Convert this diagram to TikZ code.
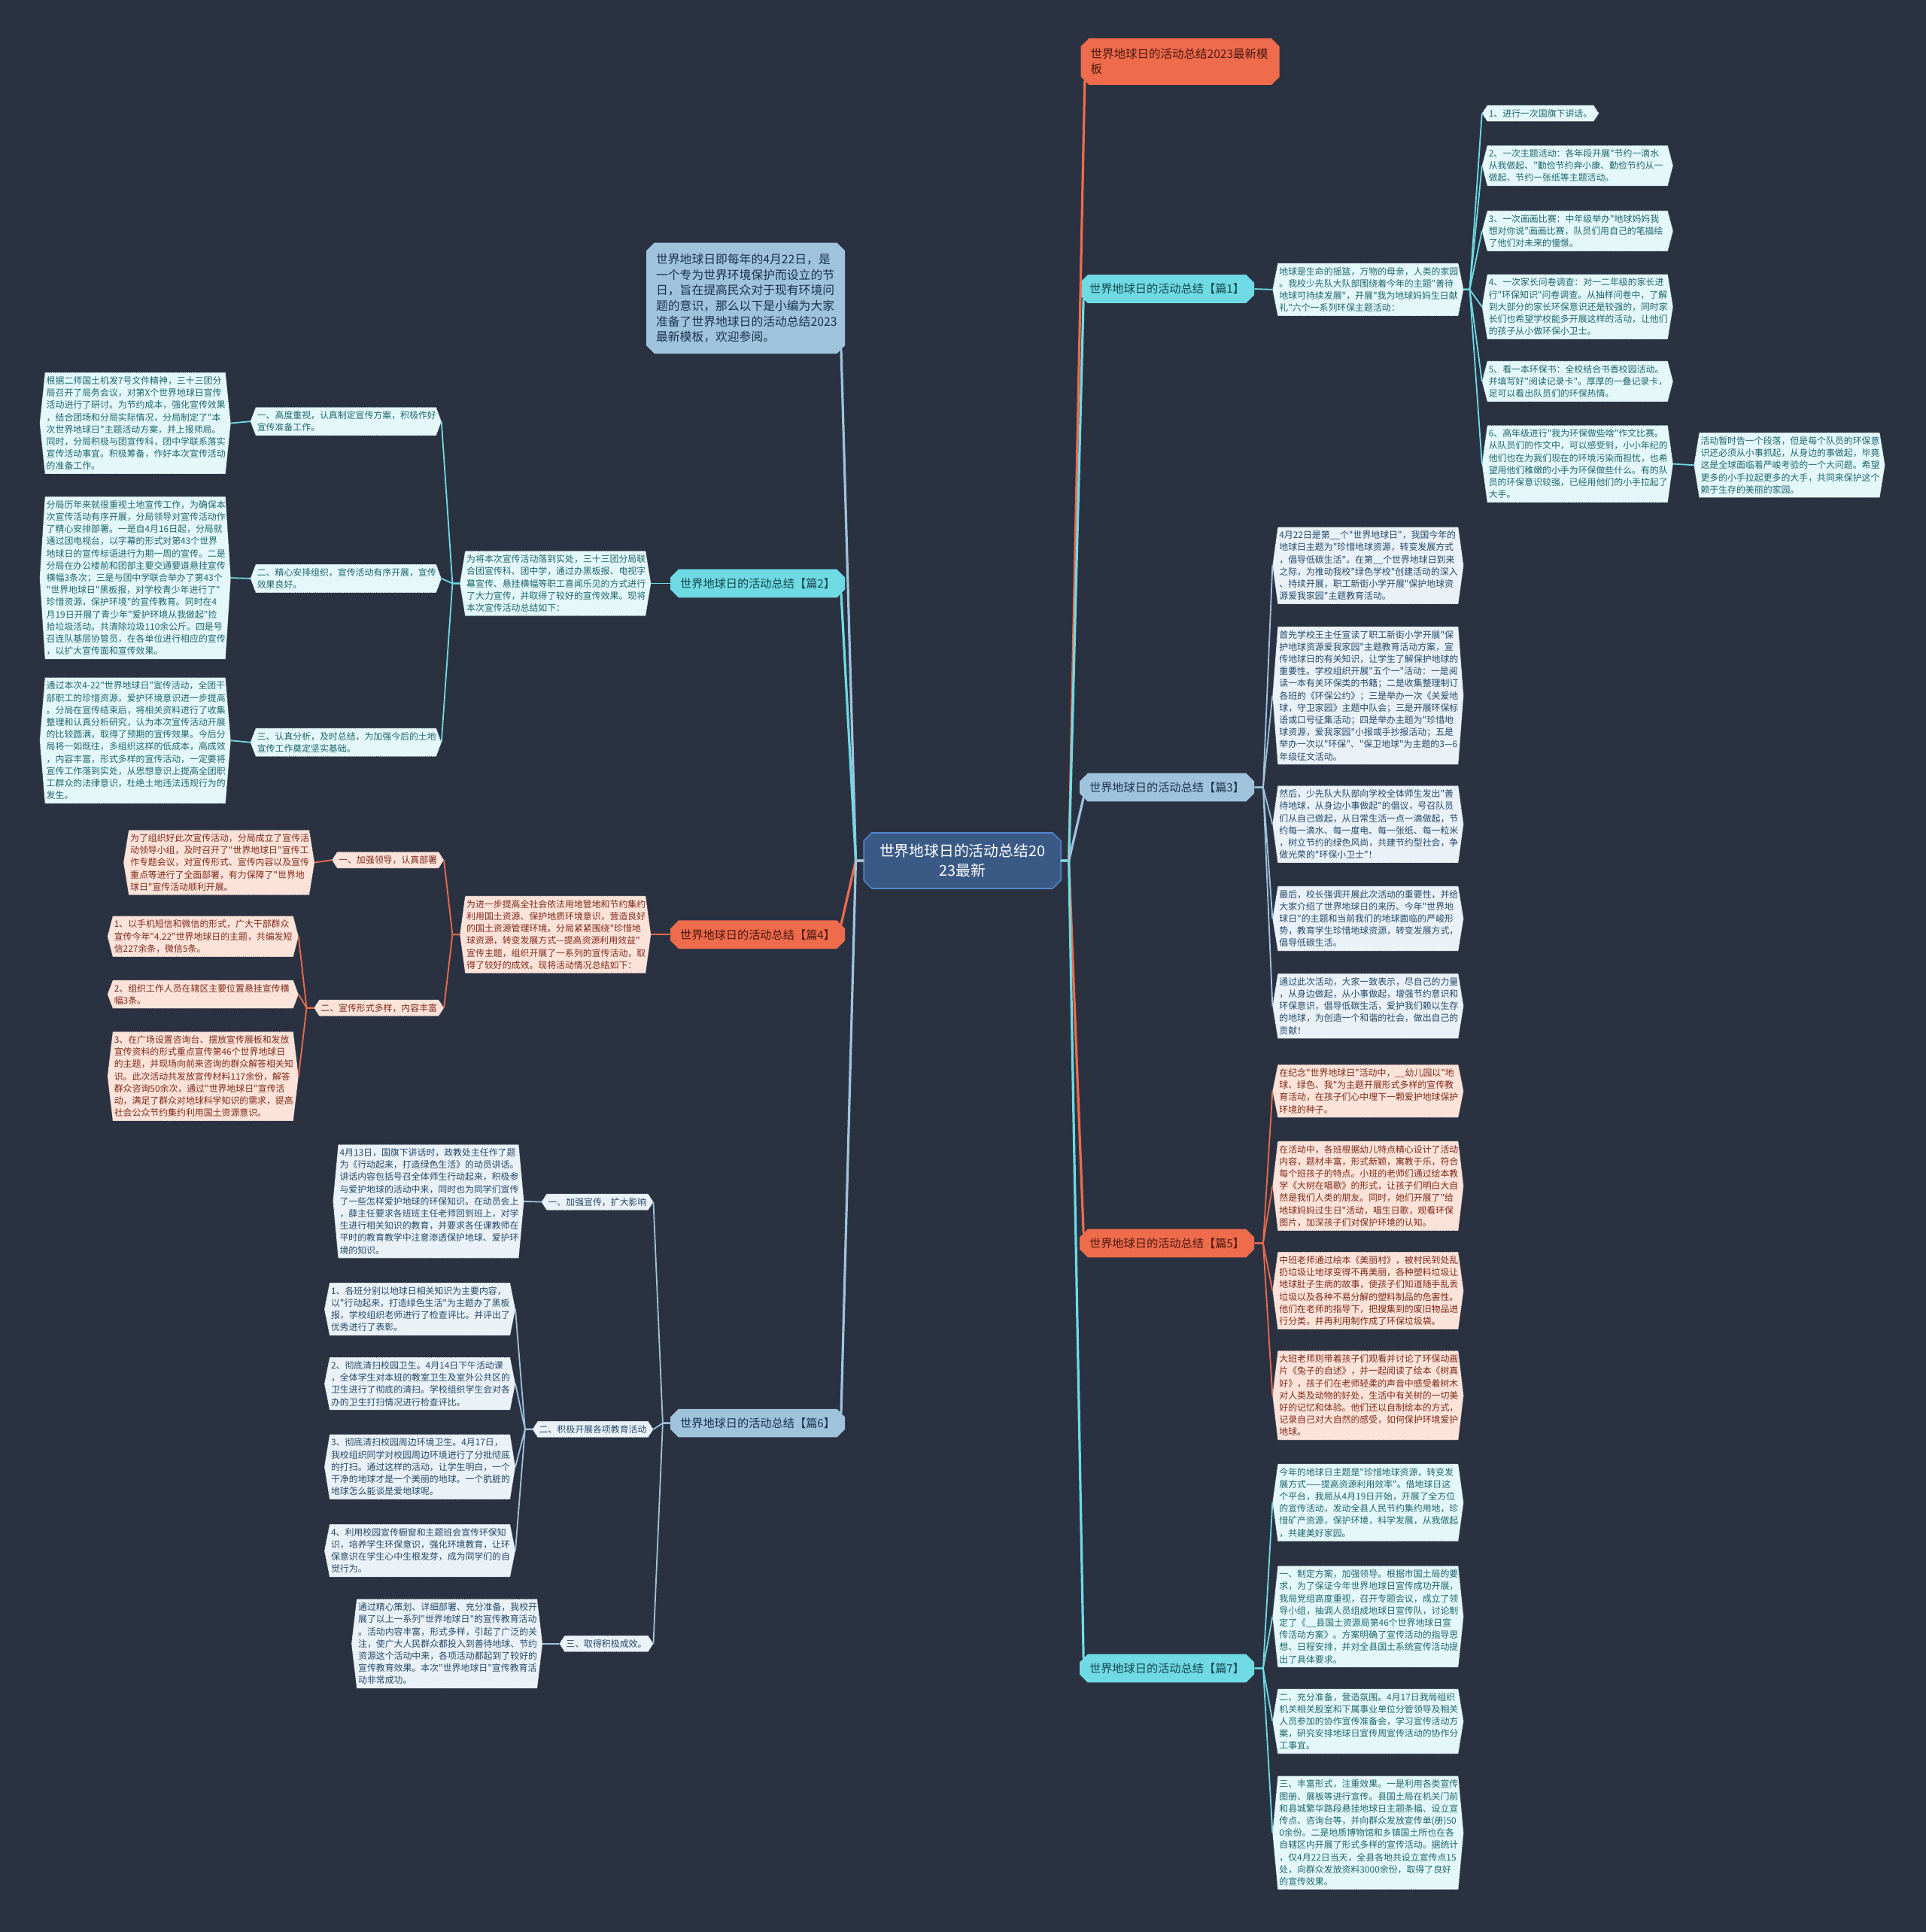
\documentclass[tikz,border=0pt]{standalone}
\usepackage{fontspec}
\newfontfamily\cjk{Noto Sans CJK SC}
\usetikzlibrary{shapes.misc,calc}
\definecolor{bgc}{HTML}{2A3242}
\definecolor{cyanF}{HTML}{6FDAE3}
\definecolor{cyanL}{HTML}{E4F8FA}
\definecolor{cyanT}{HTML}{1F666E}
\definecolor{orgF}{HTML}{EE6B4C}
\definecolor{orgL}{HTML}{FCE3DA}
\definecolor{orgT}{HTML}{7E2A19}
\definecolor{bluF}{HTML}{9FC3DB}
\definecolor{bluL}{HTML}{EAF2F8}
\definecolor{bluT}{HTML}{26496A}
\definecolor{rootF}{HTML}{3A5985}
\definecolor{rootD}{HTML}{5185CC}
\definecolor{hexD}{HTML}{3C4656}
\pgfdeclarelayer{back}
\pgfsetlayers{back,main}
\tikzset{
  topic/.style={chamfered rectangle, chamfered rectangle xsep=2.5pt, inner xsep=4pt, inner ysep=3pt,
    minimum height=17pt, font=\cjk\fontsize{7.6pt}{9pt}\selectfont},
  leaf/.style={align=left, inner xsep=0.8pt, inner ysep=2.4pt, font=\cjk\fontsize{5.95pt}{8.1pt}\selectfont},
  wd/.style={text width=118pt},
  lc/.style={leaf, text=cyanT},
  lo/.style={leaf, text=orgT},
  lb/.style={leaf, text=bluT},
  hexc/.style={fill=cyanL, draw=hexD, densely dotted, line width=0.35pt},
  hexo/.style={fill=orgL, draw=hexD, densely dotted, line width=0.35pt},
  hexb/.style={fill=bluL, draw=hexD, densely dotted, line width=0.35pt},
  trunk/.style={line width=1.6pt, line cap=round},
  twig/.style={line width=0.9pt},
}

\begin{document}
\begin{tikzpicture}[x=0.819pt,y=-0.819pt]
  % --- root and main topics ---
  \node[chamfered rectangle, chamfered rectangle xsep=2.5pt, fill=rootF, draw=rootD, line width=0.8pt,
    text=white, text width=118pt, align=center, minimum height=37pt, inner xsep=4pt,
    font=\cjk\fontsize{9.9pt}{13.4pt}\selectfont] (root) at (781,698.5) {世界地球日的活动总结20\\23最新};
  \node[topic, fill=orgF, text=orgT!60!black, text width=119pt, align=left, inner ysep=4pt,
    font=\cjk\fontsize{7.75pt}{10pt}\selectfont, anchor=west] (tmpl) at (877,50) {世界地球日的活动总结2023最新模\\板};
  \node[topic, fill=bluF, text=bluT!70!black, text width=119pt, align=left, inner ysep=4.5pt,
    font=\cjk\fontsize{7.9pt}{10.3pt}\selectfont, anchor=east] (intro) at (686,242)
    {世界地球日即每年的4月22日，是\\一个专为世界环境保护而设立的节\\日，旨在提高民众对于现有环境问\\题的意识，那么以下是小编为大家\\准备了世界地球日的活动总结2023\\最新模板，欢迎参阅。};
  \node[topic, fill=cyanF, text=cyanT!70!black, anchor=west] (p1) at (876,234.5) {世界地球日的活动总结【篇1】};
  \node[topic, fill=bluF, text=bluT!70!black, anchor=west] (p3) at (876,639) {世界地球日的活动总结【篇3】};
  \node[topic, fill=orgF, text=orgT!60!black, anchor=west] (p5) at (876,1009) {世界地球日的活动总结【篇5】};
  \node[topic, fill=cyanF, text=cyanT!70!black, anchor=west] (p7) at (876,1354) {世界地球日的活动总结【篇7】};
  \node[topic, fill=cyanF, text=cyanT!70!black, anchor=east] (p2) at (686,473.5) {世界地球日的活动总结【篇2】};
  \node[topic, fill=orgF, text=orgT!60!black, anchor=east] (p4) at (686,758.5) {世界地球日的活动总结【篇4】};
  \node[topic, fill=bluF, text=bluT!70!black, anchor=east] (p6) at (686,1155) {世界地球日的活动总结【篇6】};

  % --- 篇1 ---
  \node[lc, wd, anchor=west] (p1i) at (1037,235) {地球是生命的摇篮，万物的母亲，人类的家园\\。我校少先队大队部围绕着今年的主题"善待\\地球可持续发展"，开展"我为地球妈妈生日献\\礼"六个一系列环保主题活动：};
  \node[lc, anchor=west] (p1a) at (1207,92) {1、进行一次国旗下讲话。};
  \node[lc, wd, anchor=west] (p1b) at (1207,134.5) {2、一次主题活动：各年段开展"节约一滴水\\从我做起、"勤俭节约奔小康、勤俭节约从一\\做起、节约一张纸等主题活动。};
  \node[lc, wd, anchor=west] (p1c) at (1207,187.5) {3、一次画画比赛：中年级举办"地球妈妈我\\想对你说"画画比赛，队员们用自己的笔描绘\\了他们对未来的憧憬。};
  \node[lc, wd, anchor=west] (p1d) at (1207,249) {4、一次家长问卷调查：对一二年级的家长进\\行"环保知识"问卷调查。从抽样问卷中，了解\\到大部分的家长环保意识还是较强的，同时家\\长们也希望学校能多开展这样的活动，让他们\\的孩子从小做环保小卫士。};
  \node[lc, wd, anchor=west] (p1e) at (1207,309.5) {5、看一本环保书：全校结合书香校园活动。\\并填写好"阅读记录卡"。厚厚的一叠记录卡，\\足可以看出队员们的环保热情。};
  \node[lc, wd, anchor=west] (p1f) at (1207,376.5) {6、高年级进行"我为环保做些啥"作文比赛。\\从队员们的作文中，可以感受到，小小年纪的\\他们也在为我们现在的环境污染而担忧，也希\\望用他们稚嫩的小手为环保做些什么。有的队\\员的环保意识较强，已经用他们的小手拉起了\\大手。};
  \node[lc, wd, anchor=west] (p1g) at (1379,377.5) {活动暂时告一个段落，但是每个队员的环保意\\识还必须从小事抓起，从身边的事做起，毕竟\\这是全球面临着严峻考验的一个大问题。希望\\更多的小手拉起更多的大手，共同来保护这个\\赖于生存的美丽的家园。};

  % --- 篇3 ---
  \node[lb, wd, anchor=west] (p3a) at (1037,459) {4月22日是第\_\_个"世界地球日"，我国今年的\\地球日主题为"珍惜地球资源，转变发展方式\\，倡导低碳生活"。在第\_\_个世界地球日到来\\之际，为推动我校"绿色学校"创建活动的深入\\、持续开展，职工新街小学开展"保护地球资\\源爱我家园"主题教育活动。};
  \node[lb, wd, anchor=west] (p3b) at (1037,564.5) {首先学校王主任宣读了职工新街小学开展"保\\护地球资源爱我家园"主题教育活动方案，宣\\传地球日的有关知识，让学生了解保护地球的\\重要性。学校组织开展"五个一"活动：一是阅\\读一本有关环保类的书籍；二是收集整理制订\\各班的《环保公约》；三是举办一次《关爱地\\球，守卫家园》主题中队会；三是开展环保标\\语或口号征集活动；四是举办主题为"珍惜地\\球资源，爱我家园"小报或手抄报活动；五是\\\mbox{举办一次以"环保"、"保卫地球"为主题的3—6}\\年级征文活动。};
  \node[lb, wd, anchor=west] (p3c) at (1037,669) {然后，少先队大队部向学校全体师生发出"善\\待地球，从身边小事做起"的倡议，号召队员\\们从自己做起，从日常生活一点一滴做起，节\\约每一滴水、每一度电、每一张纸、每一粒米\\，树立节约的绿色风尚，共建节约型社会，争\\做光荣的"环保小卫士"！};
  \node[lb, wd, anchor=west] (p3d) at (1037,745.5) {最后，校长强调开展此次活动的重要性，并给\\大家介绍了世界地球日的来历、今年"世界地\\球日"的主题和当前我们的地球面临的严峻形\\势，教育学生珍惜地球资源，转变发展方式，\\倡导低碳生活。};
  \node[lb, wd, anchor=west] (p3e) at (1037,816.5) {通过此次活动，大家一致表示，尽自己的力量\\，从身边做起，从小事做起，增强节约意识和\\环保意识，倡导低碳生活，爱护我们赖以生存\\的地球，为创造一个和谐的社会，做出自己的\\贡献！};

  % --- 篇5 ---
  \node[lo, wd, anchor=west] (p5a) at (1037,885.5) {在纪念"世界地球日"活动中，\_\_幼儿园以"地\\球、绿色、我"为主题开展形式多样的宣传教\\育活动，在孩子们心中埋下一颗爱护地球保护\\环境的种子。};
  \node[lo, wd, anchor=west] (p5b) at (1037,962.5) {在活动中，各班根据幼儿特点精心设计了活动\\内容，题材丰富，形式新颖，寓教于乐，符合\\每个班孩子的特点。小班的老师们通过绘本教\\学《大树在唱歌》的形式，让孩子们明白大自\\然是我们人类的朋友。同时，她们开展了"给\\地球妈妈过生日"活动，唱生日歌，观看环保\\图片，加深孩子们对保护环境的认知。};
  \node[lo, wd, anchor=west] (p5c) at (1037,1047.5) {中班老师通过绘本《美丽村》，被村民到处乱\\扔垃圾让地球变得不再美丽，各种塑料垃圾让\\地球肚子生病的故事，使孩子们知道随手乱丢\\垃圾以及各种不易分解的塑料制品的危害性。\\他们在老师的指导下，把搜集到的废旧物品进\\行分类，并再利用制作成了环保垃圾袋。};
  \node[lo, wd, anchor=west] (p5d) at (1037,1132.5) {大班老师则带着孩子们观看并讨论了环保动画\\片《兔子的自述》，并一起阅读了绘本《树真\\好》，孩子们在老师轻柔的声音中感受着树木\\对人类及动物的好处，生活中有关树的一切美\\好的记忆和体验。他们还以自制绘本的方式，\\记录自己对大自然的感受，如何保护环境爱护\\地球。};

  % --- 篇7 ---
  \node[lc, wd, anchor=west] (p7a) at (1037,1219.5) {今年的地球日主题是"珍惜地球资源，转变发\\展方式——提高资源利用效率"。借地球日这\\个平台，我局从4月19日开始，开展了全方位\\的宣传活动，发动全县人民节约集约用地，珍\\惜矿产资源，保护环境，科学发展，从我做起\\，共建美好家园。};
  \node[lc, wd, anchor=west] (p7b) at (1037,1312) {一、制定方案，加强领导。根据市国土局的要\\求，为了保证今年世界地球日宣传成功开展，\\我局党组高度重视，召开专题会议，成立了领\\导小组，抽调人员组成地球日宣传队，讨论制\\定了《\_\_县国土资源局第46个世界地球日宣\\传活动方案》。方案明确了宣传活动的指导思\\想、日程安排，并对全县国土系统宣传活动提\\出了具体要求。};
  \node[lc, wd, anchor=west] (p7c) at (1037,1397) {二、充分准备，营造氛围。4月17日我局组织\\机关相关股室和下属事业单位分管领导及相关\\人员参加的协作宣传准备会，学习宣传活动方\\案，研究安排地球日宣传周宣传活动的协作分\\工事宜。};
  \node[lc, wd, anchor=west] (p7d) at (1037,1487.5) {三、丰富形式，注重效果。一是利用各类宣传\\图册、展板等进行宣传。县国土局在机关门前\\和县城繁华路段悬挂地球日主题条幅、设立宣\\传点、咨询台等，并向群众发放宣传单(册)50\\0余份。二是地质博物馆和乡镇国土所也在各\\自辖区内开展了形式多样的宣传活动。据统计\\，仅4月22日当天，全县各地共设立宣传点15\\处，向群众发放资料3000余份，取得了良好\\的宣传效果。};

  % --- 篇2 ---
  \node[lc, wd, anchor=east] (p2i) at (524,473.5) {为将本次宣传活动落到实处，三十三团分局联\\合团宣传科、团中学，通过办黑板报、电视字\\幕宣传、悬挂横幅等职工喜闻乐见的方式进行\\了大力宣传，并取得了较好的宣传效果。现将\\本次宣传活动总结如下：};
  \node[lc, wd, anchor=east] (p2a) at (354,342) {一、高度重视，认真制定宣传方案，积极作好\\宣传准备工作。};
  \node[lc, wd, anchor=east] (p2b) at (354,469.5) {二、精心安排组织，宣传活动有序开展，宣传\\效果良好。};
  \node[lc, wd, anchor=east] (p2c) at (354,602.5) {三、认真分析，及时总结，为加强今后的土地\\宣传工作奠定坚实基础。};
  \node[lc, wd, anchor=east] (p2a1) at (183,343.5) {根据二师国土机发7号文件精神，三十三团分\\局召开了局务会议，对第X个世界地球日宣传\\活动进行了研讨。为节约成本，强化宣传效果\\，结合团场和分局实际情况，分局制定了"本\\次世界地球日"主题活动方案，并上报师局。\\同时，分局积极与团宣传科，团中学联系落实\\宣传活动事宜。积极筹备，作好本次宣传活动\\的准备工作。};
  \node[lc, wd, anchor=east] (p2b1) at (183,469) {分局历年来就很重视土地宣传工作，为确保本\\次宣传活动有序开展，分局领导对宣传活动作\\了精心安排部署。一是自4月16日起，分局就\\通过团电视台，以字幕的形式对第43个世界\\地球日的宣传标语进行为期一周的宣传。二是\\分局在办公楼前和团部主要交通要道悬挂宣传\\横幅3条次；三是与团中学联合举办了第43个\\"世界地球日"黑板报，对学校青少年进行了"\\珍惜资源，保护环境"的宣传教育。同时在4\\月19日开展了青少年"爱护环境从我做起"捡\\拾垃圾活动。共清除垃圾110余公斤。四是号\\召连队基层协管员，在各单位进行相应的宣传\\，以扩大宣传面和宣传效果。};
  \node[lc, wd, anchor=east] (p2c1) at (183,601) {\mbox{通过本次4-22"世界地球日"宣传活动，全团干}\\部职工的珍惜资源，爱护环境意识进一步提高\\。分局在宣传结束后，将相关资料进行了收集\\整理和认真分析研究，认为本次宣传活动开展\\的比较圆满，取得了预期的宣传效果。今后分\\局将一如既往，多组织这样的低成本，高成效\\，内容丰富，形式多样的宣传活动，一定要将\\宣传工作落到实处，从思想意识上提高全团职\\工群众的法律意识，杜绝土地违法违规行为的\\发生。};

  % --- 篇4 ---
  \node[lo, wd, anchor=east] (p4i) at (524,758.5) {为进一步提高全社会依法用地管地和节约集约\\利用国土资源、保护地质环境意识，营造良好\\的国土资源管理环境。分局紧紧围绕"珍惜地\\球资源，转变发展方式—提高资源利用效益"\\宣传主题，组织开展了一系列的宣传活动，取\\得了较好的成效。现将活动情况总结如下：};
  \node[lo, anchor=east] (p4a) at (356,698) {一、加强领导，认真部署};
  \node[lo, anchor=east] (p4b) at (356,818) {二、宣传形式多样，内容丰富};
  \node[lo, wd, anchor=east] (p4a1) at (251,700) {为了组织好此次宣传活动，分局成立了宣传活\\动领导小组，及时召开了"世界地球日"宣传工\\作专题会议，对宣传形式、宣传内容以及宣传\\重点等进行了全面部署，有力保障了"世界地\\球日"宣传活动顺利开展。};
  \node[lo, wd, anchor=east] (p4b1) at (238,760) {1、以手机短信和微信的形式，广大干部群众\\宣传今年"4.22"世界地球日的主题，共编发短\\信227余条，微信5条。};
  \node[lo, wd, anchor=east] (p4b2) at (238,807) {2、组织工作人员在辖区主要位置悬挂宣传横\\幅3条。};
  \node[lo, wd, anchor=east] (p4b3) at (238,873.5) {3、在广场设置咨询台、摆放宣传展板和发放\\宣传资料的形式重点宣传第46个世界地球日\\的主题，并现场向前来咨询的群众解答相关知\\识。此次活动共发放宣传材料117余份，解答\\群众咨询50余次，通过"世界地球日"宣传活\\动，满足了群众对地球科学知识的需求，提高\\社会公众节约集约利用国土资源意识。};

  % --- 篇6 ---
  \node[lb, anchor=east] (p6a) at (526,975.5) {一、加强宣传，扩大影响};
  \node[lb, anchor=east] (p6b) at (526,1160) {二、积极开展各项教育活动};
  \node[lb, anchor=east] (p6c) at (526,1334) {三、取得积极成效。};
  \node[lb, wd, anchor=east] (p6a1) at (421,975) {4月13日，国旗下讲话时，政教处主任作了题\\为《行动起来，打造绿色生活》的动员讲话。\\讲话内容包括号召全体师生行动起来，积极参\\与爱护地球的活动中来，同时也为同学们宣传\\了一些怎样爱护地球的环保知识。在动员会上\\，薛主任要求各班班主任老师回到班上，对学\\生进行相关知识的教育，并要求各任课教师在\\平时的教育教学中注意渗透保护地球、爱护环\\境的知识。};
  \node[lb, wd, anchor=east] (p6b1) at (414,1062.5) {1、各班分别以地球日相关知识为主要内容，\\以"行动起来，打造绿色生活"为主题办了黑板\\报，学校组织老师进行了检查评比。并评出了\\优秀进行了表彰。};
  \node[lb, wd, anchor=east] (p6b2) at (414,1123) {2、彻底清扫校园卫生。4月14日下午活动课\\，全体学生对本班的教室卫生及室外公共区的\\卫生进行了彻底的清扫。学校组织学生会对各\\办的卫生打扫情况进行检查评比。};
  \node[lb, wd, anchor=east] (p6b3) at (414,1190.5) {3、彻底清扫校园周边环境卫生。4月17日，\\我校组织同学对校园周边环境进行了分批彻底\\的打扫。通过这样的活动，让学生明白，一个\\干净的地球才是一个美丽的地球。一个肮脏的\\地球怎么能谈是爱地球呢。};
  \node[lb, wd, anchor=east] (p6b4) at (414,1258.5) {4、利用校园宣传橱窗和主题班会宣传环保知\\识，培养学生环保意识，强化环境教育，让环\\保意识在学生心中生根发芽，成为同学们的自\\觉行为。};
  \node[lb, wd, anchor=east] (p6c1) at (436,1334) {通过精心策划、详细部署、充分准备，我校开\\展了以上一系列"世界地球日"的宣传教育活动\\。活动内容丰富，形式多样，引起了广泛的关\\注，使广大人民群众都投入到善待地球、节约\\资源这个活动中来，各项活动都起到了较好的\\宣传教育效果。本次"世界地球日"宣传教育活\\动非常成功。};

  % --- leaf outlines and background ---
  \begin{pgfonlayer}{back}
    \fill[bgc] (0,0) rectangle (1563,1568);
    \foreach \n in {p1i,p1a,p1b,p1c,p1d,p1e,p1f,p1g,p7a,p7b,p7c,p7d,p2i,p2a,p2b,p2c,p2a1,p2b1,p2c1}
      \draw[hexc] (\n.north west) -- (\n.north east) -- ([xshift=3.5pt]\n.east) -- (\n.south east)
        -- (\n.south west) -- ([xshift=-3.5pt]\n.west) -- cycle;
    \foreach \n in {p5a,p5b,p5c,p5d,p4i,p4a,p4b,p4a1,p4b1,p4b2,p4b3}
      \draw[hexo] (\n.north west) -- (\n.north east) -- ([xshift=3.5pt]\n.east) -- (\n.south east)
        -- (\n.south west) -- ([xshift=-3.5pt]\n.west) -- cycle;
    \foreach \n in {p3a,p3b,p3c,p3d,p3e,p6a,p6b,p6c,p6a1,p6b1,p6b2,p6b3,p6b4,p6c1}
      \draw[hexb] (\n.north west) -- (\n.north east) -- ([xshift=3.5pt]\n.east) -- (\n.south east)
        -- (\n.south west) -- ([xshift=-3.5pt]\n.west) -- cycle;
  \end{pgfonlayer}

  % --- trunk from root ---
  \foreach \c/\k/\a in {tmpl/orgF/south west, p1/cyanF/south west, p3/bluF/south west,
      p5/orgF/north west, p7/cyanF/north west}
    \draw[trunk,\k] (root.east) -- ++(6,0) -- (\c.\a);
  \foreach \c/\k/\a in {intro/bluF/south east, p2/cyanF/south east, p4/orgF/north east, p6/bluF/north east}
    \draw[trunk,\k] (root.west) -- ++(-6,0) -- (\c.\a);

  % --- right branches ---
  \draw[twig,cyanF] (p1.east) -- ([xshift=-3.5pt]p1i.west);
  \foreach \c in {p1a,p1b,p1c,p1d,p1e,p1f}
    \draw[twig,cyanF] ([xshift=3.5pt]p1i.east) -- ++(5,0) -- ([xshift=-3.5pt]\c.west);
  \draw[twig,cyanF] ([xshift=3.5pt]p1f.east) -- ([xshift=-3.5pt]p1g.west);
  \foreach \c in {p3a,p3b,p3c,p3d,p3e}
    \draw[twig,bluF] (p3.east) -- ++(7,0) -- ([xshift=-3.5pt]\c.west);
  \foreach \c in {p5a,p5b,p5c,p5d}
    \draw[twig,orgF] (p5.east) -- ++(7,0) -- ([xshift=-3.5pt]\c.west);
  \foreach \c in {p7a,p7b,p7c,p7d}
    \draw[twig,cyanF] (p7.east) -- ++(7,0) -- ([xshift=-3.5pt]\c.west);

  % --- left branches ---
  \draw[twig,cyanF] (p2.west) -- ([xshift=3.5pt]p2i.east);
  \foreach \c/\g in {p2a/p2a1,p2b/p2b1,p2c/p2c1}{
    \draw[twig,cyanF] ([xshift=-3.5pt]p2i.west) -- ++(-6,0) -- ([xshift=3.5pt]\c.east);
    \draw[twig,cyanF] ([xshift=-3.5pt]\c.west) -- ([xshift=3.5pt]\g.east);
  }
  \draw[twig,orgF] (p4.west) -- ([xshift=3.5pt]p4i.east);
  \foreach \c in {p4a,p4b}
    \draw[twig,orgF] ([xshift=-3.5pt]p4i.west) -- ++(-6,0) -- ([xshift=3.5pt]\c.east);
  \draw[twig,orgF] ([xshift=-3.5pt]p4a.west) -- ([xshift=3.5pt]p4a1.east);
  \foreach \c in {p4b1,p4b2,p4b3}
    \draw[twig,orgF] ([xshift=-3.5pt]p4b.west) -- ++(-6,0) -- ([xshift=3.5pt]\c.east);
  \foreach \c in {p6a,p6b,p6c}
    \draw[twig,bluF] (p6.west) -- ++(-6,0) -- ([xshift=3.5pt]\c.east);
  \draw[twig,bluF] ([xshift=-3.5pt]p6a.west) -- ([xshift=3.5pt]p6a1.east);
  \foreach \c in {p6b1,p6b2,p6b3,p6b4}
    \draw[twig,bluF] ([xshift=-3.5pt]p6b.west) -- ++(-6,0) -- ([xshift=3.5pt]\c.east);
  \draw[twig,bluF] ([xshift=-3.5pt]p6c.west) -- ([xshift=3.5pt]p6c1.east);
\end{tikzpicture}
\end{document}
